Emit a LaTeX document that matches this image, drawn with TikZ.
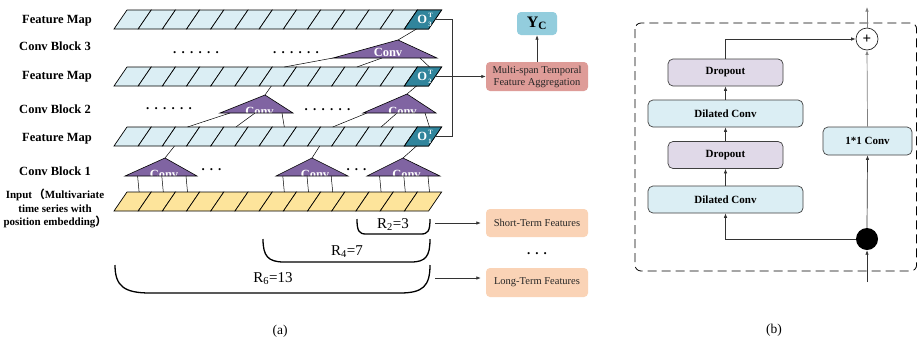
\documentclass[tikz,border=0pt]{standalone}
\usepackage{amsmath}
\usepackage{fontspec}
\setmainfont{Liberation Serif}
\newfontfamily\cjk{Noto Sans CJK SC}
\usetikzlibrary{arrows.meta,calc}

\definecolor{fmap}{HTML}{DBEEF4}
\definecolor{ocellc}{HTML}{31859C}
\definecolor{convc}{HTML}{8064A2}
\definecolor{inpc}{HTML}{FDE49B}
\definecolor{aggc}{HTML}{DE9C98}
\definecolor{ycc}{HTML}{93CDDD}
\definecolor{featc}{HTML}{FAD3B6}
\definecolor{dropc}{HTML}{E0D9E8}
\definecolor{dilc}{HTML}{DBEEF4}

% one row of 13 slanted cells; stores top/bottom cell centres
\newcommand\featbar[3]{% name, top y, fill
  \foreach \k in {0,...,12}{
    \pgfmathsetmacro\xa{114+\k*24.2}
    \pgfmathsetmacro\xb{114+(\k+1)*24.2}
    \draw[cellline, fill=#3] (\xa+13,#2) -- (\xb+13,#2) -- (\xb,#2+19) -- (\xa,#2+19) -- cycle;
    \coordinate (#1-t\k) at (\xa+25.1,#2);
    \coordinate (#1-b\k) at (\xa+12.1,#2+19);
  }
}
% output cell at the right end of a feature map, labelled O with stacked T / index
\newcommand\outcell[3]{% name, top y, index
  \draw[cellline, fill=ocellc] (417.4,#2) -- (441.6,#2) -- (428.6,#2+19) -- (404.4,#2+19) -- cycle;
  \node[olabel, anchor=base east] (#1) at (427.3,#2+13.4) {O};
  \node[oscript, anchor=west, align=left] (#1-s) at (428.1,#2+9.6) {T\\#3};
  \coordinate (#1-e) at (435.1,#2+9.5);
}
% convolution triangle: name, apex x, apex y, base left x, base right x, base y, text baseline
\newcommand\convtri[7]{%
  \coordinate (#1-a) at (#2,#3);
  \coordinate (#1-l) at (#4,#6);
  \coordinate (#1-r) at (#5,#6);
  \fill[convc] (#1-a) -- (#1-l) -- (#1-r) -- cycle;
  \begin{scope}
    \clip (#1-a) -- (#1-l) -- (#1-r) -- cycle;
    \node[convtext, anchor=base] (#1) at ({(#4+#5)/2+3},#7) {Conv};
  \end{scope}
  \draw[tri] (#1-a) -- (#1-l) -- (#1-r) -- cycle;
}
\newcommand\sixdots{.\kern5.3pt.\kern5.3pt.\kern5.3pt.\kern5.3pt.\kern5.3pt.}
\newcommand\threedots{.\kern5pt.\kern5pt.}

\begin{document}
\begin{tikzpicture}[x=1pt,y=-1pt,
  cellline/.style={draw=black, line width=0.7pt},
  link/.style={draw=black, line width=0.5pt},
  tri/.style={draw=black, line width=0.6pt},
  convtext/.style={text=white, font=\fontsize{12.5}{12.5}\selectfont\bfseries, inner sep=0pt},
  olabel/.style={text=white, font=\fontsize{12.5}{12.5}\selectfont\bfseries, inner sep=0pt},
  oscript/.style={text=white, font=\fontsize{6.5}{9.3}\selectfont\bfseries, inner sep=0pt},
  rowlabel/.style={font=\fontsize{12.5}{14}\selectfont\bfseries, anchor=base, inner sep=0pt},
  tip/.style={-{Latex[length=4.5pt,width=3.5pt]}},
  conn/.style={draw=black!80, line width=0.7pt},
  rbox/.style={draw=black!75, line width=0.7pt, rounded corners=5pt,
    font=\fontsize{11}{11}\selectfont\bfseries, inner sep=0pt, minimum height=27pt},
  softbox/.style={rounded corners=4pt, inner sep=0pt},
  bracket/.style={line width=1.3pt},
  dotrow/.style={font=\fontsize{13}{13}\selectfont\bfseries, inner sep=0pt, anchor=base},
  rlabel/.style={font=\fontsize{15}{15}\selectfont, inner sep=0pt},
  caption/.style={font=\fontsize{13.5}{13.5}\selectfont, inner sep=0pt},
]
\useasboundingbox (0,0) rectangle (917,341);
\fill[white] (0,0) rectangle (917,341);

% ---------------- (a) stacked dilated convolutions ----------------
\node[rowlabel] (lf1) at (57,23.5) {Feature Map};
\node[rowlabel] (lc3) at (55,50) {Conv Block 3};
\node[rowlabel] (lf2) at (57,79) {Feature Map};
\node[rowlabel] (lc2) at (55,113) {Conv Block 2};
\node[rowlabel] (lf3) at (57,141.5) {Feature Map};
\node[rowlabel] (lc1) at (55,175) {Conv Block 1};
\node[font=\fontsize{11}{13.5}\selectfont\bfseries, align=center, inner sep=0pt] (lin) at (55,208.5)
  {Input\,{\cjk （}Multivariate\\time series with\\position embedding{\cjk ）}};

\featbar{f1}{10}{fmap}
\featbar{f2}{67}{fmap}
\featbar{f3}{127}{fmap}
\featbar{in}{192}{inpc}
\outcell{o3}{10}{3}
\outcell{o2}{67}{2}
\outcell{o1}{127}{1}

% block 3 (dilation 3)
\draw[link] (398,40) -- (f1-b12);
\draw[link] (333,58) -- (f2-t6);
\draw[link] (382,58) -- (f2-t9);
\draw[link] (420,58) -- (f2-t12);
\convtri{c3}{398}{40}{333}{437}{58}{56.5}

% block 2 (dilation 2)
\draw[link] (265,95) -- (f2-b6);
\draw[link] (230,113) -- (f3-t2);
\draw[link] (255,113) -- (f3-t4);
\draw[link] (282,113) -- (f3-t6);
\convtri{c2a}{265}{95}{220}{293}{113}{115.5}
\draw[link] (407,94) -- (f2-b12);
\draw[link] (367,113) -- (f3-t8);
\draw[link] (397,113) -- (f3-t10);
\draw[link] (425,113) -- (f3-t12);
\convtri{c2b}{407}{94}{363}{436}{113}{115.5}

% block 1 (dilation 1)
\foreach \k in {0,1,2,6,7,8,10,11,12}{
  \draw[link] (in-t\k) -- ++(-1.5,-16);
}
\draw[link] (165,158) -- (f3-b2);
\draw[link] (312,158) -- (f3-b8);
\draw[link] (403,158) -- (f3-b12);
\convtri{c1a}{165}{158}{125}{197}{176}{178.5}
\convtri{c1b}{312}{158}{276}{348}{176}{178.5}
\convtri{c1c}{403}{158}{367}{440}{176}{178.5}

\node[dotrow] (d3a) at (196,53) {\sixdots};
\node[dotrow] (d3b) at (296,53) {\sixdots};
\node[dotrow] (d2a) at (169,109) {\sixdots};
\node[dotrow] (d2b) at (327.5,110) {\sixdots};
\node[dotrow] (d1a) at (211.5,170.5) {\threedots};
\node[dotrow] (d1b) at (356.5,170.5) {\threedots};

% outputs to aggregation
\coordinate (bus) at (452,0);
\draw[conn] (o3-e) -- (o3-e -| bus) -- (o1-e -| bus) -- (o1-e);
\node[softbox, fill=aggc, minimum width=102pt, minimum height=29pt, align=center,
  font=\fontsize{10.5}{12}\selectfont, text=black!85] (agg) at (537,76.5)
  {Multi-span Temporal\\Feature Aggregation};
\node[softbox, fill=ycc, minimum width=40pt, minimum height=23pt,
  font=\fontsize{16}{16}\selectfont\bfseries] (yc) at (537,23.5) {Y\textsubscript{C}};
\draw[conn, tip] (o2-e) -- (agg.west);
\draw[conn, tip] (agg.north) -- (yc.south);

% receptive fields
\draw[bracket] (357,219) .. controls (357,231) and (359,234) .. (366,234) -- (421,234)
  .. controls (428,234) and (430,231) .. (430,219);
\draw[bracket] (263,239) .. controls (263,256) and (268,262) .. (284,262) -- (411,262)
  .. controls (426,262) and (430,256) .. (430,239);
\draw[bracket] (115,265) .. controls (115,286) and (124,293) .. (150,293) -- (400,293)
  .. controls (423,293) and (430,286) .. (430,265);
\node[rlabel] (r2) at (393,224.5) {R\textsubscript{2}=3};
\node[rlabel] (r4) at (347,251.5) {R\textsubscript{4}=7};
\node[rlabel] (r6) at (273,278.5) {R\textsubscript{6}=13};

\node[softbox, fill=featc, minimum width=102pt, minimum height=28pt,
  font=\fontsize{10.5}{10.5}\selectfont, text=black!85] (short) at (537,223) {Short-Term Features};
\node[softbox, fill=featc, minimum width=102pt, minimum height=29pt,
  font=\fontsize{10.5}{10.5}\selectfont, text=black!85] (long) at (537,282.5) {Long-Term Features};
\node[dotrow] (dfeat) at (537,254.5) {\threedots};
\coordinate (sf) at (435,223);
\coordinate (lf) at (435,278);
\draw[conn, tip, shorten >=5pt] (sf) -- (sf -| short.west);
\draw[conn, tip, shorten >=5pt] (lf) -- (lf -| long.west);

\node[caption] (capa) at (280,331) {(a)};

% ---------------- (b) residual block ----------------
\draw[line width=0.8pt, dash pattern=on 9pt off 5pt, rounded corners=6pt]
  (635,23) rectangle (916.6,271);

\node[rbox, fill=dropc, minimum width=115pt] (drop2) at (725.5,72.5) {Dropout};
\node[rbox, fill=dilc, minimum width=155pt] (dil2) at (725.5,113.5) {Dilated Conv};
\node[rbox, fill=dropc, minimum width=115pt] (drop1) at (725.5,155) {Dropout};
\node[rbox, fill=dilc, minimum width=155pt] (dil1) at (725.5,199.5) {Dilated Conv};
\node[rbox, fill=dilc, minimum width=89pt, minimum height=28pt] (c11) at (867.5,141) {1*1 Conv};
\node[circle, fill=black, minimum size=22pt, inner sep=0pt] (split) at (867,239) {};
\node[circle, draw=black!85, line width=0.7pt, fill=white, minimum size=22pt, inner sep=0pt,
  font=\fontsize{15}{15}\selectfont\bfseries] (plus) at (867,39) {+};
\coordinate (inp) at (867,282);
\coordinate (outp) at (867,7);

\draw[conn, tip] (inp) -- (split.south);
\draw[conn, tip] (split.west) -| (dil1.south);
\draw[conn, tip] (dil1.north) -- (drop1.south);
\draw[conn, tip] (drop1.north) -- (dil2.south);
\draw[conn, tip] (dil2.north) -- (drop2.south);
\draw[conn, tip] (drop2.north) |- (plus.west);
\draw[conn, tip] (split.north) -- (c11.south);
\draw[conn, draw=black!50, tip] (c11.north) -- (plus.south);
\draw[conn, draw=black!50, tip] (plus.north) -- (outp);

\node[caption] (capb) at (774,330) {(b)};
\end{tikzpicture}
\end{document}
